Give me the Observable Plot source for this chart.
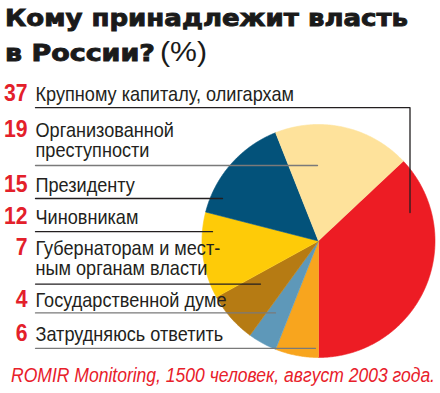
<!DOCTYPE html>
<html lang="ru"><head><meta charset="utf-8">
<script src="https://cdn.jsdelivr.net/npm/d3@7"></script>
<script src="https://cdn.jsdelivr.net/npm/@observablehq/plot@0.6"></script>
<style>
html,body{margin:0;padding:0;background:#fff}
body{position:relative;width:440px;height:393px;overflow:hidden}
#chart svg{position:absolute;left:0;top:70px;background:transparent}
.txt{position:absolute;white-space:nowrap;display:inline-block;transform-origin:0 0;line-height:normal}
.heavy{-webkit-text-stroke:0.9px #1a1a1a}
</style></head><body>
<div id="title"></div>
<div id="chart"></div>
<div id="caption"></div>
<script>
// ---- data ----
const categories = [
  "Крупному капиталу, олигархам",
  "Организованной\nпреступности",
  "Президенту",
  "Чиновникам",
  "Губернаторам и мест-\nным органам власти",
  "Государственной думе",
  "Затрудняюсь ответить"
];
const values = [37, 19, 15, 12, 7, 4, 6];
const sliceColors = ["#ed1c24", "#fee29b", "#03527a", "#fecb08", "#b67b13", "#5e98b9", "#f8a51e"];
const pieOrder = [0, 6, 5, 4, 3, 2, 1]; // clockwise order of slices, starting with the largest
const titleLine1 = "Кому принадлежит власть";
const titleLine2 = "в России?";
const titleUnit = "(%)";
const source = "ROMIR Monitoring, 1500 человек, август 2003 года.";

// ---- layout ----
const W = 440, svgTop = 70, svgH = 293;
const cx = 318, cy = 240.5, R = 116.5;
const rowBaseline = [100.5, 136.5, 191.3, 223.2, 254.5, 306.3, 340.8];
const leaderY = [107.2, 165, 198, 231.2, 283.6, 312.4, 347.8];
const leaderEndX = [409.5, 317, 222, 212, 260, 275, 315];
const leaderDropY = 212;
const leaderDark = [true, false, true, true, true, false, false];
const labelSize = 19.5, lineGap = 20;

// ---- pie geometry from values ----
const total = d3.sum(values);
const start = Math.PI - 2 * Math.PI * values[pieOrder[0]] / total;
const arcs = d3.pie().sort(null).value(i => values[i]).startAngle(start).endAngle(start + 2 * Math.PI)(pieOrder);
const slicePts = [];
arcs.forEach(a => {
  const i = a.data;
  slicePts.push({k: i, x: cx, y: cy, c: sliceColors[i]});
  const n = Math.max(2, Math.ceil((a.endAngle - a.startAngle) / (Math.PI / 360)));
  for (let j = 0; j <= n; j++) {
    const t = a.startAngle + (a.endAngle - a.startAngle) * j / n;
    slicePts.push({k: i, x: cx + R * Math.sin(t), y: cy - R * Math.cos(t), c: sliceColors[i]});
  }
});

const rows = categories.map((label, i) => ({
  label, value: values[i], base: rowBaseline[i],
  lastBase: rowBaseline[i] + (label.split("\n").length - 1) * lineGap
}));

const leaderPts = [];
categories.forEach((c, i) => {
  const col = leaderDark[i] ? "#231f20" : "#7a7a7a";
  leaderPts.push({k: i, x: 35, y: leaderY[i], c: col});
  leaderPts.push({k: i, x: leaderEndX[i], y: leaderY[i], c: col});
  if (i === 0) leaderPts.push({k: i, x: leaderEndX[i], y: leaderDropY, c: col});
});

const svg = Plot.plot({
  width: W, height: svgH, margin: 0,
  x: {domain: [0, W], range: [0, W], axis: null},
  y: {domain: [svgTop, svgTop + svgH], range: [0, svgH], axis: null},
  color: {type: "identity"},
  style: {background: "transparent"},
  marks: [
    Plot.line(slicePts, {x: "x", y: "y", z: "k", fill: "c", stroke: "c", strokeWidth: 0.6, curve: "linear"}),
    Plot.line(leaderPts, {x: "x", y: "y", z: "k", stroke: "c", strokeWidth: 1.3, curve: "linear"}),
    Plot.text(rows, {x: () => 27, y: "base", text: d => String(d.value), textAnchor: "end", lineAnchor: "bottom",
      fill: "#e3202a", fontFamily: "'Liberation Sans', Arial, sans-serif", fontWeight: "bold", fontSize: 23}),
    Plot.text(rows, {x: () => 35, y: "lastBase", text: "label", textAnchor: "start", lineAnchor: "bottom",
      lineHeight: lineGap / labelSize, fill: "#231f20", fontFamily: "'Liberation Sans', Arial, sans-serif", fontSize: labelSize})
  ]
});
document.getElementById("chart").appendChild(svg);
const textGroups = d3.select(svg).selectAll('g[aria-label="text"]').nodes();
d3.select(textGroups[0]).selectAll("text").each(function () {
  this.setAttribute("transform", (this.getAttribute("transform") || "") + " scale(0.92,1.04)");
});
d3.select(textGroups[1]).selectAll("text").each(function () {
  this.setAttribute("transform", (this.getAttribute("transform") || "") + " scale(0.93,1)");
});

function place(parent, text, {x, baseline, width, font, color, cls}) {
  const s = document.createElement("span");
  s.className = "txt" + (cls ? " " + cls : "");
  s.textContent = text;
  s.style.left = x + "px";
  s.style.top = "0px";
  s.style.font = font;
  s.style.color = color;
  parent.appendChild(s);
  const probe = document.createElement("span");
  probe.style.cssText = "display:inline-block;width:0;height:0";
  s.appendChild(probe);
  const off = probe.getBoundingClientRect().top - s.getBoundingClientRect().top;
  s.removeChild(probe);
  const w = s.getBoundingClientRect().width;
  s.style.top = (baseline - off) + "px";
  s.style.transform = `scaleX(${width / w})`;
}
const tEl = document.getElementById("title");
place(tEl, titleLine1, {x: 5, baseline: 26, width: 403, font: "bold 23px 'DejaVu Sans', sans-serif", color: "#1a1a1a", cls: "heavy"});
place(tEl, titleLine2, {x: 5, baseline: 61, width: 150, font: "bold 23px 'DejaVu Sans', sans-serif", color: "#1a1a1a", cls: "heavy"});
place(tEl, titleUnit, {x: 160, baseline: 61, width: 47, font: "28px 'Liberation Sans', Arial, sans-serif", color: "#1a1a1a"});
place(document.getElementById("caption"), source, {x: 11, baseline: 381.5, width: 424,
  font: "italic 19.5px 'Liberation Sans', Arial, sans-serif", color: "#e8202a"});
</script>
</body></html>
